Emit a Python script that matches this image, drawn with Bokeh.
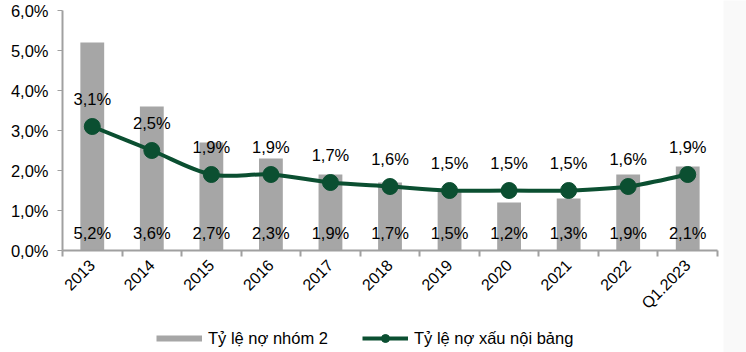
import numpy as np
from bokeh.plotting import figure
from bokeh.layouts import column, row
from bokeh.models import (ColumnDataSource, Range1d, FixedTicker, Legend, LegendItem)
from bokeh.core.properties import value
from bokeh.embed import file_html
from bokeh.resources import INLINE

categories = ["2013", "2014", "2015", "2016", "2017", "2018", "2019", "2020", "2021", "2022", "Q1.2023"]
nhom2 = [5.2, 3.6, 2.7, 2.3, 1.9, 1.7, 1.5, 1.2, 1.3, 1.9, 2.1]
no_xau = [3.1, 2.5, 1.9, 1.9, 1.7, 1.6, 1.5, 1.5, 1.5, 1.6, 1.9]
y_ticks = [0, 1, 2, 3, 4, 5, 6]
y_tick_labels = ["0,0%", "1,0%", "2,0%", "3,0%", "4,0%", "5,0%", "6,0%"]
series_names = ["Tỷ lệ nợ nhóm 2", "Tỷ lệ nợ xấu nội bảng"]

FONT = "Liberation Sans"
GRAY = "#a6a6a6"
GREEN = "#0b4f31"
AXIS = "#a0a0a0"

def fmt(v):
    return ("%.1f%%" % v).replace(".", ",")

x = list(range(len(categories)))

p = figure(width=723, height=320, output_backend="svg", toolbar_location=None,
           x_range=Range1d(-0.5, len(categories) - 0.5), y_range=Range1d(0, 6),
           min_border_left=62, min_border_right=6, min_border_top=10, min_border_bottom=70)
p.outline_line_color = None
p.grid.visible = False
p.background_fill_color = "white"
p.border_fill_color = "white"

bars_src = ColumnDataSource(dict(x=x, top=nhom2, lab=[fmt(v) for v in nhom2],
                                 ly=[0.45] * len(x)))
bars = p.vbar(x="x", top="top", width=0.4, source=bars_src, fill_color=GRAY, line_color=None)

# smooth line (Catmull-Rom style bezier as in spreadsheet smoothed lines)
pts = np.array(list(zip(x, no_xau)), dtype=float)
n = len(pts)
x0s, y0s, x1s, y1s, cx0, cy0, cx1, cy1 = [], [], [], [], [], [], [], []
for i in range(n - 1):
    P0 = pts[i - 1] if i > 0 else pts[i]
    P1 = pts[i]
    P2 = pts[i + 1]
    P3 = pts[i + 2] if i + 2 < n else pts[i + 1]
    c1 = P1 + (P2 - P0) / 6.0
    c2 = P2 - (P3 - P1) / 6.0
    x0s.append(P1[0]); y0s.append(P1[1]); x1s.append(P2[0]); y1s.append(P2[1])
    cx0.append(c1[0]); cy0.append(c1[1]); cx1.append(c2[0]); cy1.append(c2[1])
p.bezier(x0=x0s, y0=y0s, x1=x1s, y1=y1s, cx0=cx0, cy0=cy0, cx1=cx1, cy1=cy1,
         line_color=GREEN, line_width=4)

line_src = ColumnDataSource(dict(x=x, y=no_xau, lab=[fmt(v) for v in no_xau]))
p.scatter("x", "y", source=line_src, size=16, fill_color=GREEN, line_color=GREEN)

# data labels
p.text("x", "ly", text="lab", source=bars_src, text_align="center", text_baseline="middle",
       text_font=value(FONT), text_font_size="16.5px", text_color="black")
p.text("x", "y", text="lab", source=line_src, text_align="center", text_baseline="middle",
       y_offset=-28, text_font=value(FONT), text_font_size="16.5px", text_color="black")

# axes
p.yaxis.ticker = FixedTicker(ticks=y_ticks)
p.yaxis.major_label_overrides = {t: l for t, l in zip(y_ticks, y_tick_labels)}
p.yaxis.axis_line_color = AXIS
p.yaxis.axis_line_width = 2
p.yaxis.major_tick_line_color = AXIS
p.yaxis.major_tick_out = 5
p.yaxis.major_tick_in = 0
p.yaxis.minor_tick_line_color = None
p.yaxis.major_label_standoff = 9
p.yaxis.major_label_text_font = FONT
p.yaxis.major_label_text_font_size = "16.5px"
p.yaxis.major_label_text_color = "black"

bounds = [i - 0.5 for i in range(len(categories) + 1)]
p.xaxis.ticker = FixedTicker(ticks=x, minor_ticks=bounds)
p.xaxis.major_label_overrides = {i: c for i, c in enumerate(categories)}
p.xaxis.axis_line_color = AXIS
p.xaxis.axis_line_width = 2
p.xaxis.major_tick_line_color = None
p.xaxis.minor_tick_line_color = AXIS
p.xaxis.minor_tick_line_width = 2
p.xaxis.minor_tick_out = 6
p.xaxis.minor_tick_in = 0
p.xaxis.major_tick_out = 0
p.xaxis.major_tick_in = 0
p.xaxis.major_label_orientation = np.pi / 4
p.xaxis.major_label_standoff = 6
p.xaxis.major_label_text_font = FONT
p.xaxis.major_label_text_font_size = "16px"
p.xaxis.major_label_text_color = "black"

# legend strip (separate figure so it is not clipped)
lg = figure(width=723, height=32, output_backend="svg", toolbar_location=None,
            x_range=Range1d(0, 1), y_range=Range1d(0, 1),
            min_border_left=0, min_border_right=0, min_border_top=0, min_border_bottom=0)
lg.axis.visible = False
lg.grid.visible = False
lg.outline_line_color = None
lg_bar = lg.line(x=[5, 6], y=[5, 5], line_color=GRAY, line_width=6, line_cap="butt")
lg_line = lg.line(x=[5, 6], y=[5, 5], line_color=GREEN, line_width=4)
lg_dot = lg.scatter(x=[5], y=[5], size=9, fill_color=GREEN, line_color=GREEN)
legend = Legend(items=[LegendItem(label=series_names[0], renderers=[lg_bar]),
                       LegendItem(label=series_names[1], renderers=[lg_line, lg_dot])],
                orientation="horizontal", location=(94, 4),
                glyph_width=46, glyph_height=20, label_height=20, label_standoff=6,
                spacing=34, padding=0, margin=0, border_line_color=None,
                background_fill_alpha=0,
                label_text_font=FONT, label_text_font_size="16.5px", label_text_color="black")
lg.add_layout(legend, "center")

filler = figure(width=23, height=352, output_backend="svg", toolbar_location=None,
                min_border_left=0, min_border_right=0, min_border_top=0, min_border_bottom=0)
filler.axis.visible = False
filler.grid.visible = False
filler.outline_line_color = None
filler.background_fill_color = "#f9f9f9"
filler.border_fill_color = "#f9f9f9"

layout = row(column(p, lg, spacing=0), filler, spacing=0)
open("out.html", "w").write(file_html(layout, INLINE))
